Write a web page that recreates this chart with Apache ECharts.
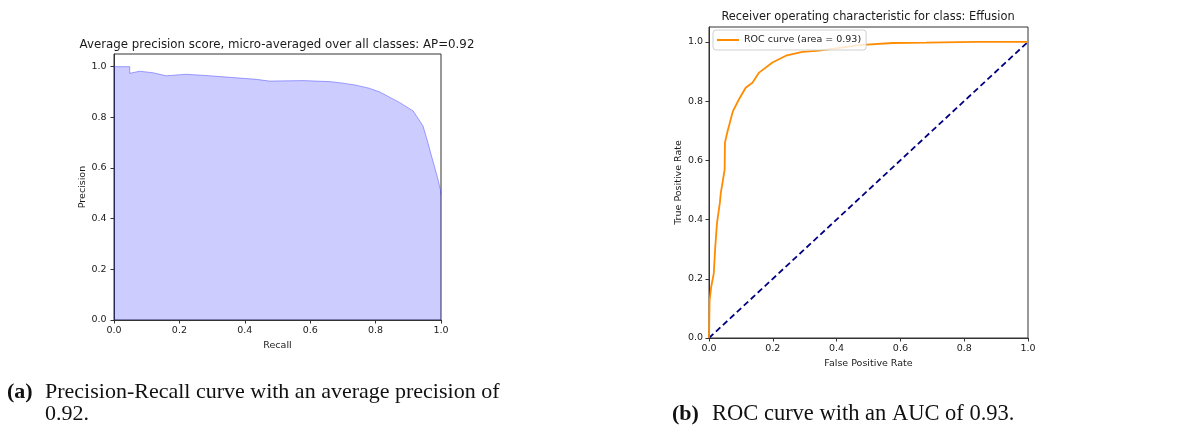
<!DOCTYPE html>
<html>
<head>
<meta charset="utf-8">
<script src="https://cdn.jsdelivr.net/npm/echarts@6/dist/echarts.min.js"></script>
<style>
html,body{margin:0;padding:0;background:#fff;}
#c{width:1190px;height:429px;}
</style>
</head>
<body>
<div id="c"></div>
<script>
// ---- Data ----
const prRecall    = [0, 0.048, 0.048, 0.079, 0.119, 0.16, 0.221, 0.293, 0.374, 0.435, 0.476, 0.578, 0.66, 0.70, 0.74, 0.78, 0.813, 0.874, 0.915, 0.945, 0.96, 0.971, 0.981, 0.991, 0.998, 1.0];
const prPrecision = [1.0, 1.0, 0.974, 0.982, 0.976, 0.964, 0.970, 0.964, 0.956, 0.950, 0.943, 0.945, 0.941, 0.935, 0.927, 0.915, 0.900, 0.858, 0.825, 0.766, 0.700, 0.647, 0.601, 0.554, 0.515, 0.495];

const rocFpr = [0, 0.002, 0.007, 0.015, 0.019, 0.025, 0.034, 0.037, 0.044, 0.049, 0.05, 0.057, 0.068, 0.075, 0.094, 0.115, 0.136, 0.157, 0.199, 0.241, 0.293, 0.345, 0.398, 0.471, 0.575, 0.68, 0.837, 1.0];
const rocTpr = [0, 0.128, 0.173, 0.218, 0.297, 0.388, 0.456, 0.490, 0.535, 0.568, 0.659, 0.693, 0.738, 0.766, 0.806, 0.845, 0.862, 0.896, 0.930, 0.953, 0.966, 0.970, 0.978, 0.989, 0.996, 0.997, 1.0, 1.0];

const diagX = [0, 1];
const diagY = [0, 1];

const tickValues = [0, 0.2, 0.4, 0.6, 0.8, 1.0];

const titlePR  = 'Average precision score, micro-averaged over all classes: AP=0.92';
const titleROC = 'Receiver operating characteristic for class: Effusion';
const legendROC = 'ROC curve (area = 0.93)';

// ---- Chart ----
const TXT = '#1a1a1a';
const FONT = 'DejaVu Sans';
const SERIF = 'Liberation Serif';
const zip = (a, b) => a.map((v, i) => [v, b[i]]);

function xAx(gi, name, gap) {
  return {
    type: 'value', gridIndex: gi, min: 0, max: 1, interval: 0.2,
    name: name, nameLocation: 'middle', nameGap: gap,
    nameTextStyle: {color: TXT, fontFamily: FONT, fontSize: 9.5},
    axisLine: {show: true, lineStyle: {color: '#333', width: 1}},
    axisTick: {show: true, length: 3.5, lineStyle: {color: '#333'}, customValues: tickValues},
    axisLabel: {color: TXT, fontFamily: FONT, fontSize: 9.5, margin: 6, customValues: tickValues,
      formatter: v => v.toFixed(1)},
    splitLine: {show: false}
  };
}
function yAx(gi, name, gap, margin) {
  return {
    type: 'value', gridIndex: gi, min: 0, max: 1.05,
    name: name, nameLocation: 'middle', nameGap: gap, nameRotate: 90,
    nameTextStyle: {color: TXT, fontFamily: FONT, fontSize: 9.5},
    axisLine: {show: true, lineStyle: {color: '#333', width: 1}},
    axisTick: {show: true, length: 3.5, lineStyle: {color: '#333'}, customValues: tickValues},
    axisLabel: {color: TXT, fontFamily: FONT, fontSize: 9.5, margin: margin, customValues: tickValues,
      formatter: v => v.toFixed(1)},
    splitLine: {show: false}
  };
}

const chart = echarts.init(document.getElementById('c'), null, {renderer: 'canvas'});
chart.setOption({
  backgroundColor: '#fff',
  animation: false,
  title: [
    {text: titlePR, left: 277, top: 39, textAlign: 'center', padding: 0,
      textStyle: {color: TXT, fontFamily: FONT, fontSize: 11.8, fontWeight: 'normal'}},
    {text: titleROC, left: 868, top: 12, textAlign: 'center', padding: 0,
      textStyle: {color: TXT, fontFamily: FONT, fontSize: 11.4, fontWeight: 'normal'}}
  ],
  grid: [
    {left: 114, right: 749, top: 54, bottom: 109, show: true, borderColor: '#333', borderWidth: 1, backgroundColor: 'transparent'},
    {left: 709, right: 162, top: 27, bottom: 91, show: true, borderColor: '#333', borderWidth: 1, backgroundColor: 'transparent'}
  ],
  xAxis: [xAx(0, 'Recall', 20), xAx(1, 'False Positive Rate', 20)],
  yAxis: [yAx(0, 'Precision', 26, 7.5), yAx(1, 'True Positive Rate', 24, 6)],
  legend: {
    data: [{name: legendROC, icon: 'rect'}],
    left: 713, top: 30, orient: 'vertical',
    itemWidth: 22, itemHeight: 2, itemGap: 6,
    padding: [5, 5, 5, 4],
    backgroundColor: 'rgba(255,255,255,0.8)',
    borderColor: '#d0d0d0', borderWidth: 1, borderRadius: 3,
    textStyle: {color: TXT, fontFamily: FONT, fontSize: 9.5},
    selectedMode: false
  },
  series: [
    {
      type: 'line', xAxisIndex: 0, yAxisIndex: 0,
      data: zip(prRecall, prPrecision), symbol: 'none', smooth: false,
      lineStyle: {color: 'rgba(60,60,255,0.45)', width: 1},
      areaStyle: {color: 'rgba(0,0,255,0.2)', opacity: 1},
      z: 2
    },
    {
      name: legendROC, type: 'line', xAxisIndex: 1, yAxisIndex: 1,
      data: zip(rocFpr, rocTpr), symbol: 'none',
      lineStyle: {color: '#ff8c00', width: 1.8},
      itemStyle: {color: '#ff8c00'},
      z: 3
    },
    {
      type: 'line', xAxisIndex: 1, yAxisIndex: 1,
      data: zip(diagX, diagY), symbol: 'none',
      lineStyle: {color: '#000080', width: 1.8, type: [6, 3.5]},
      z: 2
    }
  ],
  graphic: [
    {type: 'text', left: 7, top: 381.5, style: {text: '(a)', fontFamily: SERIF, fontSize: 22, fontWeight: 'bold', fill: '#111'}},
    {type: 'text', left: 45, top: 381.5, style: {text: 'Precision-Recall curve with an average precision of', fontFamily: SERIF, fontSize: 22, fill: '#111'}},
    {type: 'text', left: 45, top: 403, style: {text: '0.92.', fontFamily: SERIF, fontSize: 22, fill: '#111'}},
    {type: 'text', left: 672, top: 403, style: {text: '(b)', fontFamily: SERIF, fontSize: 22, fontWeight: 'bold', fill: '#111'}},
    {type: 'text', left: 712, top: 403, style: {text: 'ROC curve with an AUC of 0.93.', fontFamily: SERIF, fontSize: 22.5, fill: '#111'}}
  ]
});
</script>
</body>
</html>
